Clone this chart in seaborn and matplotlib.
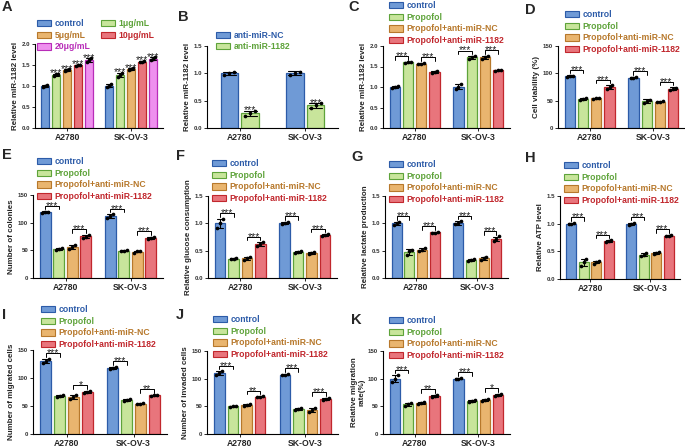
import numpy as np
import pandas as pd
import matplotlib
matplotlib.use("Agg")
import matplotlib.pyplot as plt
import seaborn as sns
from matplotlib.patches import Patch

# ---------------- data ----------------
cells = ["A2780", "SK-OV-3"]
doses = ["control", "1μg/mL", "5μg/mL", "10μg/mL", "20μg/mL"]
sirna = ["anti-miR-NC", "anti-miR-1182"]
groups4 = ["control", "Propofol", "Propofol+anti-miR-NC", "Propofol+anti-miR-1182"]

# replicate values: group -> [A2780 triple, SK-OV-3 triple]
A_reps = {
    "control": [[0.98, 1.01, 1.02], [0.97, 1.00, 1.04]],
    "1μg/mL": [[1.24, 1.28, 1.29], [1.22, 1.27, 1.31]],
    "5μg/mL": [[1.36, 1.38, 1.40], [1.38, 1.41, 1.42]],
    "10μg/mL": [[1.47, 1.49, 1.51], [1.56, 1.58, 1.60]],
    "20μg/mL": [[1.58, 1.62, 1.66], [1.62, 1.65, 1.68]],
}
B_reps = {
    "anti-miR-NC": [[0.97, 1.00, 1.03], [0.97, 1.01, 1.03]],
    "anti-miR-1182": [[0.22, 0.28, 0.31], [0.37, 0.42, 0.45]],
}
C_reps = {
    "control": [[0.98, 1.00, 1.02], [0.95, 1.00, 1.07]],
    "Propofol": [[1.58, 1.60, 1.62], [1.69, 1.72, 1.75]],
    "Propofol+anti-miR-NC": [[1.55, 1.57, 1.58], [1.68, 1.72, 1.76]],
    "Propofol+anti-miR-1182": [[1.35, 1.37, 1.39], [1.39, 1.41, 1.42]],
}
D_reps = {
    "control": [[93, 95, 96], [91, 92, 93]],
    "Propofol": [[51, 53, 55], [45, 49, 52]],
    "Propofol+anti-miR-NC": [[53, 54, 55], [47, 48, 49]],
    "Propofol+anti-miR-1182": [[72, 75, 78], [69, 72, 74]],
}
E_reps = {
    "control": [[117, 119, 120], [109, 112, 115]],
    "Propofol": [[51, 53, 55], [48, 49, 50]],
    "Propofol+anti-miR-NC": [[53, 56, 60], [46, 48, 49]],
    "Propofol+anti-miR-1182": [[73, 75, 78], [70, 72, 74]],
}
F_reps = {
    "control": [[0.92, 1.00, 1.08], [0.99, 1.01, 1.02]],
    "Propofol": [[0.34, 0.35, 0.36], [0.46, 0.48, 0.49]],
    "Propofol+anti-miR-NC": [[0.33, 0.36, 0.39], [0.43, 0.45, 0.47]],
    "Propofol+anti-miR-1182": [[0.59, 0.62, 0.65], [0.76, 0.78, 0.80]],
}
G_reps = {
    "control": [[0.97, 1.00, 1.03], [0.98, 1.00, 1.04]],
    "Propofol": [[0.42, 0.50, 0.52], [0.32, 0.33, 0.34]],
    "Propofol+anti-miR-NC": [[0.49, 0.52, 0.55], [0.33, 0.36, 0.39]],
    "Propofol+anti-miR-1182": [[0.82, 0.83, 0.85], [0.68, 0.71, 0.76]],
}
H_reps = {
    "control": [[0.99, 1.00, 1.01], [0.98, 1.00, 1.02]],
    "Propofol": [[0.24, 0.30, 0.36], [0.41, 0.44, 0.47]],
    "Propofol+anti-miR-NC": [[0.28, 0.31, 0.33], [0.46, 0.47, 0.49]],
    "Propofol+anti-miR-1182": [[0.67, 0.68, 0.70], [0.77, 0.78, 0.79]],
}
I_reps = {
    "control": [[126, 130, 134], [116, 118, 120]],
    "Propofol": [[66, 68, 69], [59, 61, 62]],
    "Propofol+anti-miR-NC": [[62, 66, 70], [53, 54, 55]],
    "Propofol+anti-miR-1182": [[73, 75, 77], [68, 69, 70]],
}
J_reps = {
    "control": [[107, 110, 113], [106, 107, 108]],
    "Propofol": [[49, 50, 51], [43, 45, 47]],
    "Propofol+anti-miR-NC": [[50, 52, 55], [39, 43, 47]],
    "Propofol+anti-miR-1182": [[66, 67, 68], [61, 63, 65]],
}
K_reps = {
    "control": [[94, 100, 106], [99, 100, 101]],
    "Propofol": [[51, 54, 56], [58, 60, 62]],
    "Propofol+anti-miR-NC": [[55, 56, 57], [60, 62, 64]],
    "Propofol+anti-miR-1182": [[66, 68, 70], [69, 71, 73]],
}

# significance labels
A_sig = [["***", "***", "***", "***"], ["***", "***", "***", "***"]]  # vs control, per dose
B_sig = [["***"], ["***"]]
C_sig = [["***", "***"], ["***", "***"]]
D_sig = [["***", "***"], ["***", "***"]]
E_sig = [["***", "***"], ["***", "***"]]
F_sig = [["***", "***"], ["***", "***"]]
G_sig = [["***", "***"], ["***", "***"]]
H_sig = [["***", "***"], ["***", "***"]]
I_sig = [["***", "*"], ["***", "**"]]
J_sig = [["***", "**"], ["***", "***"]]
K_sig = [["***", "**"], ["***", "*"]]

ylabels = {
    "A": "Relative miR-1182 level", "B": "Relative miR-1182 level",
    "C": "Relative miR-1182 level", "D": "Cell viability (%)",
    "E": "Number of colonies", "F": "Relative glucose consumption",
    "G": "Relative lactate production", "H": "Relative ATP level",
    "I": "Number of migrated cells", "J": "Number of invaded cells",
    "K": "Relative migration\nrate(%)",
}

# ---------------- style ----------------
BLUE_F, BLUE_E = "#6f9ad6", "#2c5ba8"
GREEN_F, GREEN_E = "#c8e59b", "#5ea33a"
ORANGE_F, ORANGE_E = "#e9b56f", "#b7782b"
RED_F, RED_E = "#e8757c", "#c1272d"
MAG_F, MAG_E = "#ee90ee", "#b82cb8"
FILL = {"control": BLUE_F, "Propofol": GREEN_F, "Propofol+anti-miR-NC": ORANGE_F,
        "Propofol+anti-miR-1182": RED_F, "1μg/mL": GREEN_F, "5μg/mL": ORANGE_F,
        "10μg/mL": RED_F, "20μg/mL": MAG_F, "anti-miR-NC": BLUE_F, "anti-miR-1182": GREEN_F}
EDGE = {"control": BLUE_E, "Propofol": GREEN_E, "Propofol+anti-miR-NC": ORANGE_E,
        "Propofol+anti-miR-1182": RED_E, "1μg/mL": GREEN_E, "5μg/mL": ORANGE_E,
        "10μg/mL": RED_E, "20μg/mL": MAG_E, "anti-miR-NC": BLUE_E, "anti-miR-1182": GREEN_E}

sns.set_theme(style="ticks")
plt.rcParams["font.family"] = ["Liberation Sans", "DejaVu Sans"]
plt.rcParams["font.weight"] = "bold"
plt.rcParams["axes.labelweight"] = "bold"

W, H = 685, 447
fig = plt.figure(figsize=(W / 100, H / 100), dpi=100)


def rect(x0, y0, x1, y1):
    return [x0 / W, 1 - y1 / H, (x1 - x0) / W, (y1 - y0) / H]


def draw_panel(letter, box, groups, reps, ymax, yticks, fmt, width, gap,
               leg_xy, ncol=1, letter_xy=(0, 0)):
    ax = fig.add_axes(rect(*box))
    rows = []
    for g in groups:
        for ci, c in enumerate(cells):
            for v in reps[g][ci]:
                rows.append((c, g, v))
    df = pd.DataFrame(rows, columns=["cell", "group", "value"])
    sns.barplot(data=df, x="cell", y="value", hue="group", order=cells,
                hue_order=groups, palette={g: FILL[g] for g in groups},
                errorbar="sd", capsize=0.4,
                err_kws={"color": "black", "linewidth": 0.8},
                width=width, gap=gap, linewidth=0.9, saturation=1,
                legend=False, ax=ax)
    info = {}
    for hi, cont in enumerate(ax.containers):
        g = groups[hi]
        for p in cont.patches:
            p.set_edgecolor(EDGE[g])
            cx = p.get_x() + p.get_width() / 2
            ci = int(round(cx))
            vals = np.array(reps[g][ci], dtype=float)
            offs = np.array([-0.28, 0.0, 0.28]) * p.get_width()
            ax.scatter(cx + offs, vals, s=7, color="black", zorder=6, linewidths=0)
            info[(hi, ci)] = (cx, vals.mean() + vals.std(ddof=1))
    ax.set_xlim(-0.5, 1.5)
    ax.set_ylim(0, ymax)
    ax.set_yticks(yticks)
    ax.set_yticklabels([fmt % t for t in yticks])
    ax.set_xlabel("")
    ax.set_ylabel(ylabels[letter], fontsize=5.8, labelpad=2, linespacing=1.1)
    ax.tick_params(axis="y", labelsize=4.4, length=2.5, width=0.7, pad=1,
                   labelcolor="#333333")
    ax.tick_params(axis="x", labelsize=6.2, length=2, width=0.7, pad=1.5)
    for lab in ax.get_xticklabels():
        lab.set_fontweight("bold")
    sns.despine(ax=ax)
    for s in ("left", "bottom"):
        ax.spines[s].set_linewidth(0.8)
        ax.spines[s].set_color("black")
    # legend
    handles = [Patch(facecolor=FILL[g], edgecolor=EDGE[g], linewidth=0.8) for g in groups]
    labels = list(groups)
    if ncol == 2:
        order = [0, 2, 4, 1, 3]
        handles = [handles[i] for i in order]
        labels = [labels[i] for i in order]
    lx, ly = leg_xy
    leg = ax.legend(handles, labels, loc="upper left",
                    bbox_to_anchor=(lx / W, 1 - (ly - 4.8) / H),
                    bbox_transform=fig.transFigure, frameon=False, borderpad=0,
                    borderaxespad=0, handlelength=1.6, handleheight=0.75,
                    handletextpad=0.45, labelspacing=0.3, fontsize=6.2,
                    ncol=ncol, columnspacing=1.25)
    for t in leg.get_texts():
        t.set_color(EDGE[t.get_text()])
        t.set_fontweight("bold")
    fig.text(letter_xy[0] / W, 1 - letter_xy[1] / H, letter, fontsize=10.5,
             fontweight="bold", ha="left", va="center")
    return ax, info


def stars(ax, x, y, txt):
    ax.annotate(txt, (x, y), xytext=(0, -2.2), textcoords="offset points",
                ha="center", va="baseline", fontsize=7.5, fontweight="normal",
                color="#222222")


def bracket(ax, info, h1, h2, ci, txt, ymax):
    x1, t1 = info[(h1, ci)]
    x2, t2 = info[(h2, ci)]
    y = max(t1, t2) + 0.07 * ymax
    d = 0.045 * ymax
    ax.plot([x1, x1, x2, x2], [y - d, y, y, y - d], color="black", lw=0.7,
            clip_on=False)
    stars(ax, (x1 + x2) / 2, y, txt)


frac_ticks = [0.0, 0.5, 1.0, 1.5]
int_ticks = [0, 50, 100, 150]

# Panel A
ax, info = draw_panel("A", (35, 44, 163, 128), doses, A_reps, 2.0,
                      [0.0, 0.5, 1.0, 1.5, 2.0], "%.1f", 0.86, 0.2,
                      (37, 24), ncol=2, letter_xy=(2, 7))
for ci in range(2):
    for k in range(1, 5):
        x, t = info[(k, ci)]
        stars(ax, x, t + 0.01, A_sig[ci][k - 1])

# Panel B
ax, info = draw_panel("B", (207, 46, 338, 128), sirna, B_reps, 1.5, frac_ticks,
                      "%.1f", 0.63, 0.14, (216, 35.5), letter_xy=(178, 17))
for ci in range(2):
    x, t = info[(1, ci)]
    stars(ax, x, t + 0.01, B_sig[ci][0])

specs = [
    ("C", (383, 46, 510, 128), C_reps, 2.0, [0.0, 0.5, 1.0, 1.5, 2.0], "%.1f", (389, 6), (348, 7), C_sig),
    ("D", (558, 46, 685, 128), D_reps, 150, int_ticks, "%d", (565, 15), (525, 10), D_sig),
    ("E", (33, 195, 163, 278), E_reps, 150, int_ticks, "%d", (37, 162), (2, 155), E_sig),
    ("F", (208, 196, 337, 278), F_reps, 1.5, frac_ticks, "%.1f", (212, 164), (176, 156), F_sig),
    ("G", (385, 196, 508, 278), G_reps, 1.5, frac_ticks, "%.1f", (389, 165), (351, 157), G_sig),
    ("H", (560, 196, 680, 279), H_reps, 1.5, frac_ticks, "%.1f", (564, 166), (525, 158), H_sig),
    ("I", (33, 350, 167, 434), I_reps, 150, int_ticks, "%d", (41, 310), (2, 315), I_sig),
    ("J", (207, 351, 338, 434), J_reps, 150, int_ticks, "%d", (213, 320), (176, 315), J_sig),
    ("K", (383, 351, 510, 434), K_reps, 150, int_ticks, "%d", (389, 321), (351, 320), K_sig),
]
for letter, box, reps, ymax, ticks, fmt, legxy, letxy, sig in specs:
    ax, info = draw_panel(letter, box, groups4, reps, ymax, ticks, fmt, 0.83, 0.22,
                          legxy, letter_xy=letxy)
    for ci in range(2):
        bracket(ax, info, 0, 1, ci, sig[ci][0], ymax)
        bracket(ax, info, 2, 3, ci, sig[ci][1], ymax)

fig.savefig("out.png", dpi=100)
